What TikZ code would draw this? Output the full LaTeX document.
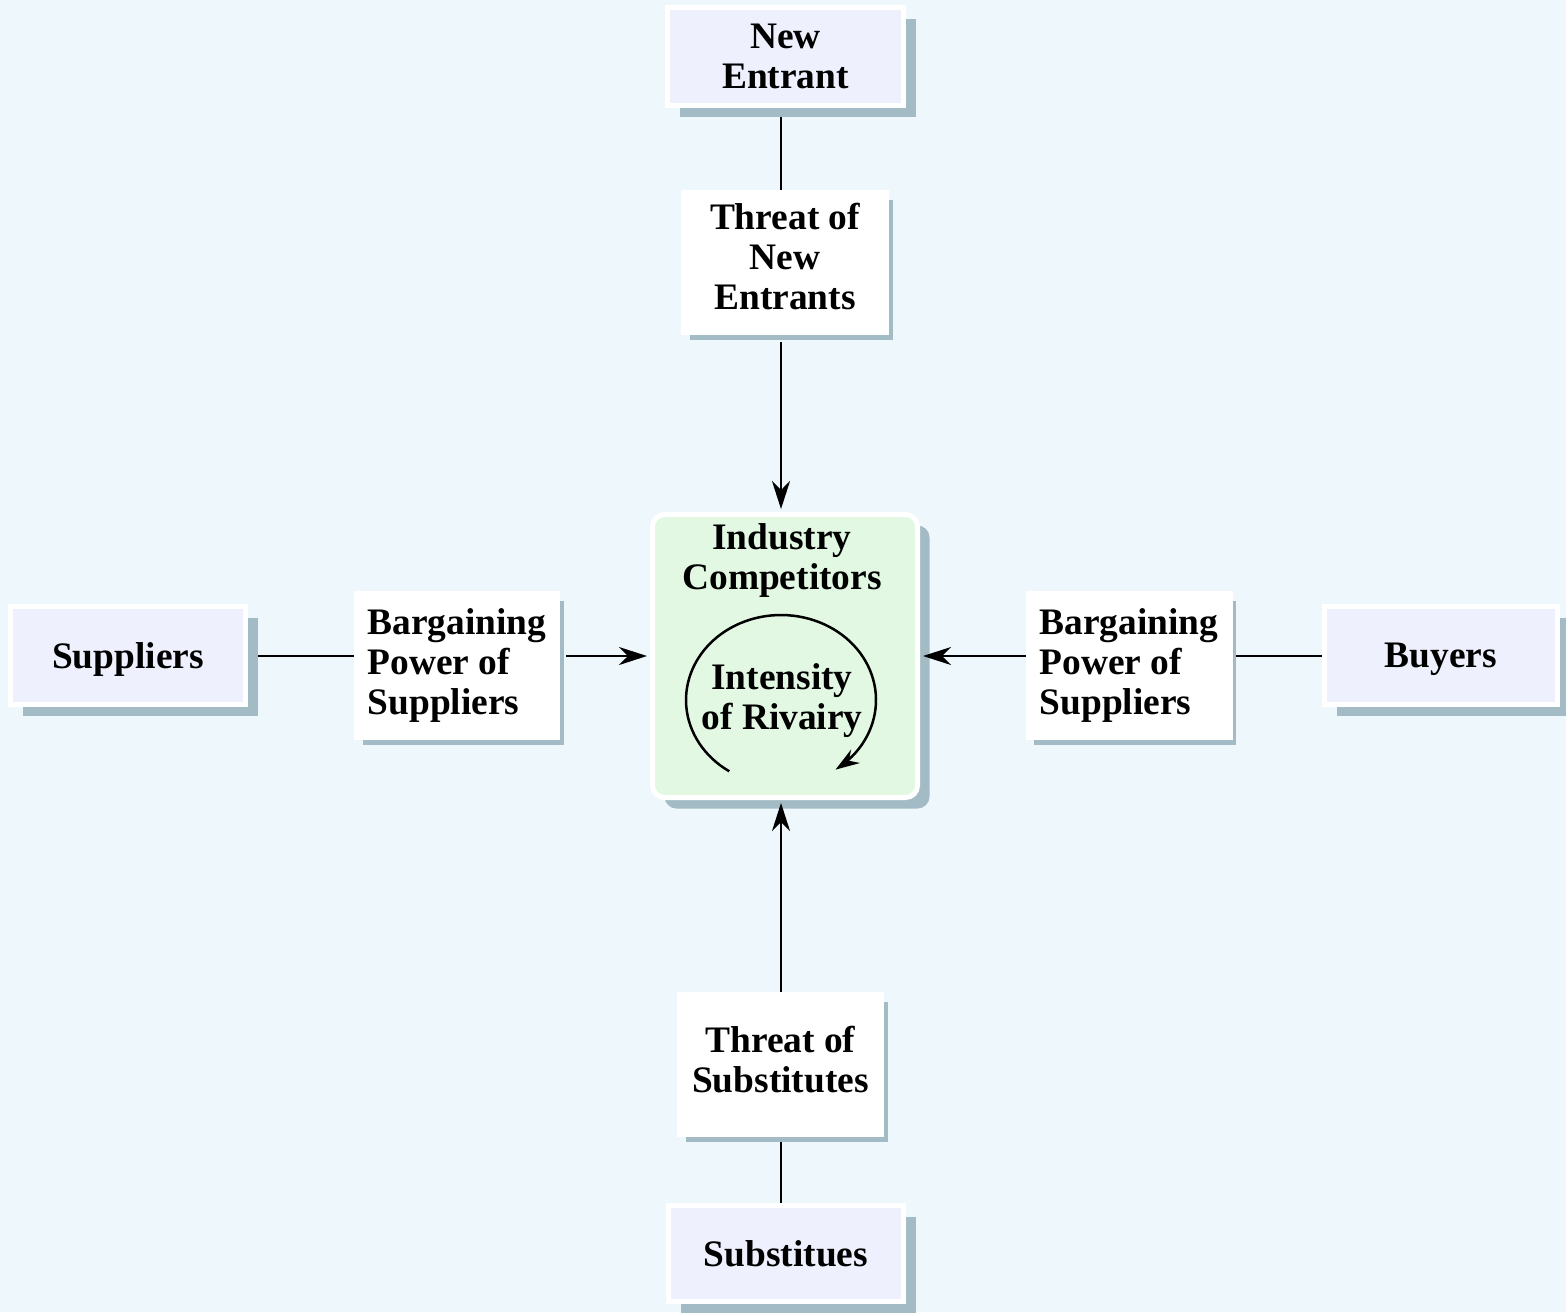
\documentclass[tikz,border=0pt]{standalone}
\usepackage{fontspec}
\setmainfont{Liberation Serif}
\usetikzlibrary{arrows.meta,shadows,backgrounds}
\definecolor{bgc}{RGB}{238,247,252}
\definecolor{boxfill}{RGB}{238,241,253}
\definecolor{greenfill}{RGB}{226,248,226}
\definecolor{shadowc}{RGB}{163,187,196}
\begin{document}
\begin{tikzpicture}[x=0.5pt,y=-0.5pt,
  lbl/.style={font=\bfseries\fontsize{18.7}{20}\selectfont, align=center, inner sep=0pt},
  box/.style={lbl, draw=white, line width=2.5pt, rectangle,
    drop shadow={shadow xshift=6pt, shadow yshift=-5.5pt, fill=shadowc, opacity=1}},
  outerbox/.style={box, fill=boxfill},
  midbox/.style={lbl, draw=white, line width=2.5pt, rectangle, fill=white,
    drop shadow={shadow xshift=3pt, shadow yshift=-3.5pt, fill=shadowc, opacity=1}},
  conn/.style={line width=1.25pt, black},
  tip/.style={-{Stealth[length=14pt,width=9pt,inset=4.5pt]}},
  arr/.style={conn, tip, shorten >=1.5pt}]
\begin{pgfonlayer}{background}
\fill[bgc] (0,0) rectangle (1566,1312);
\end{pgfonlayer}
\useasboundingbox (0,0) rectangle (1566,1312);
\coordinate (vx) at (781,656);
% outer boxes
\node[outerbox, minimum width=118pt, minimum height=49pt] (newent) at (785.5,56.5) {New\\Entrant};
\node[outerbox, minimum width=117.5pt, minimum height=49pt, text depth=0pt] (sup) at (128,655.5) {Suppliers};
\node[outerbox, minimum width=116.5pt, minimum height=49pt, text depth=0pt] (buy) at (1441,655.5) {Buyers};
\node[outerbox, minimum width=117.5pt, minimum height=48pt] (subs) at (786,1253.5) {Substitues};
% middle boxes
\node[midbox, minimum width=101.5pt, minimum height=70pt, text depth=6pt] (tne) at (785,262.5) {Threat of\\New\\Entrants};
\node[midbox, minimum width=100.5pt, minimum height=72pt, align=left] (bps) at (457,665.5) {Bargaining\\Power of\\Suppliers};
\node[midbox, minimum width=101pt, minimum height=72pt, align=left] (bpb) at (1129,665.5) {Bargaining\\Power of\\Suppliers};
\node[midbox, minimum width=101pt, minimum height=70pt, text depth=5pt] (ts) at (780.5,1064.5) {Threat of\\Substitutes};
% central box
\node[box, fill=greenfill, rounded corners=6pt, minimum width=132.5pt, minimum height=141.5pt] (ic) at (785,656) {};
\node[lbl] (ictitle) at (782,560) {Industry\\Competitors};
\node[lbl] (rival) at (782,701) {Intensity\\of Rivairy};
\draw[conn, -{Stealth[length=12pt,width=8pt,inset=4pt]}]
  plot[domain=123:415, samples=90] ({781+95*cos(\x)},{700+85*sin(\x)});
% connectors
\begin{pgfonlayer}{background}
\draw[conn] (newent.south -| vx) -- (tne.north -| vx);
\draw[conn] (subs.north -| vx) -- (ts.south -| vx);
\draw[conn] (sup.east |- vx) -- (bps.west |- vx);
\draw[conn] (buy.west |- vx) -- (bpb.east |- vx);
\end{pgfonlayer}
\draw[arr, shorten <=3.5pt] (tne.south -| vx) -- (ic.north -| vx);
\draw[arr] (ts.north -| vx) -- (ic.south -| vx);
\draw[arr, shorten <=3pt] (bps.east |- vx) -- (ic.west |- vx);
\draw[arr] (bpb.west |- vx) -- (ic.east |- vx);
\end{tikzpicture}
\end{document}
